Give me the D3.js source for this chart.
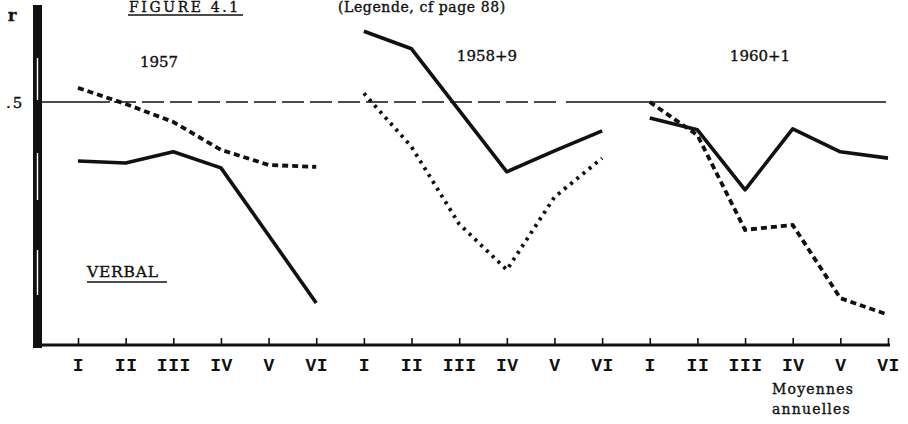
<!DOCTYPE html>
<html>
<head>
<meta charset="utf-8">
<script src="https://cdn.jsdelivr.net/npm/d3@7"></script>
<style>
  html, body { margin: 0; padding: 0; background: #fff; }
  svg { display: block; }
  .serif { font-family: "DejaVu Serif", "Liberation Serif", serif; fill: #111; stroke: #111; stroke-width: 0.35px; }
  .roman { font-family: "Liberation Mono", "DejaVu Sans Mono", monospace; font-weight: bold; }
</style>
</head>
<body>
<svg id="chart" width="908" height="424"></svg>
<script>
// Periods within each survey and the survey groups along the x axis
const periods = ["I", "II", "III", "IV", "V", "VI"];
const groups = ["1957", "1958+9", "1960+1"];

// Correlation r per period, one row per group (solid curve)
const solidValues = [
  [0.379, 0.375, 0.398, 0.365, 0.227, 0.088],
  [0.645, 0.609, 0.483, 0.357, 0.400, 0.441],
  [0.467, 0.443, 0.320, 0.445, 0.398, 0.385]
];
// Correlation r per period, one row per group (dotted curve)
const dottedValues = [
  [0.529, 0.496, 0.459, 0.402, 0.371, 0.367],
  [0.518, 0.408, 0.250, 0.156, 0.305, 0.385],
  [0.500, 0.432, 0.238, 0.248, 0.098, 0.064]
];
// Reference level and its label
const refValue = 0.5;
const refLabel = ".5";
const yTitle = "r";

const svg = d3.select("#chart");

const keys = [];
groups.forEach(g => periods.forEach(p => keys.push(g + "|" + p)));

const x = d3.scalePoint().domain(keys).range([78, 888]).padding(0);
const y = d3.scaleLinear().domain([0, 0.5]).range([346, 102]);

// Reference line at r = .5 : solid, broken dashes, then solid again
const refY = y(refValue);
const ref = svg.append("g").attr("stroke", "#111").attr("stroke-width", 1.4).attr("fill", "none");
ref.append("line").attr("x1", 42).attr("x2", 110).attr("y1", refY).attr("y2", refY);
ref.append("line").attr("x1", 114).attr("x2", 560).attr("y1", refY).attr("y2", refY)
  .attr("stroke-dasharray", "22,6");
ref.append("line").attr("x1", 566).attr("x2", 886).attr("y1", refY).attr("y2", refY);

// Thick vertical axis with light streaks inside
svg.append("rect").attr("x", 33).attr("y", 5).attr("width", 9).attr("height", 343).attr("fill", "#111");
[[58, 100], [153, 200], [250, 295]].forEach(([a, b]) => {
  svg.append("line").attr("x1", 37.5).attr("x2", 37.5).attr("y1", a).attr("y2", b)
    .attr("stroke", "#fff").attr("stroke-width", 1.4);
});

// Horizontal axis baseline
svg.append("line").attr("x1", 35).attr("x2", 890).attr("y1", 345).attr("y2", 345)
  .attr("stroke", "#111").attr("stroke-width", 3);

// Period ticks and Roman numeral labels
const xAxis = d3.axisBottom(x)
  .tickSizeInner(-6).tickSizeOuter(0)
  .tickFormat(d => d.split("|")[1]);
const ax = svg.append("g").attr("transform", "translate(0,344)").call(xAxis);
ax.select(".domain").remove();
ax.selectAll(".tick line").attr("stroke", "#111").attr("stroke-width", 1.6);
ax.selectAll(".tick text")
  .attr("class", "roman")
  .attr("y", 27).attr("dy", 0)
  .attr("fill", "#111")
  .style("font-size", "18px")
  .style("letter-spacing", "0.5px");

// Curves, drawn separately for each group
const line = d3.line()
  .x((d, i) => x(d.g + "|" + periods[i]))
  .y(d => y(d.v));

const dashes = ["6,4", "3,5", "6,4"];
groups.forEach((g, gi) => {
  const dotted = dottedValues[gi].map(v => ({ g, v }));
  const solid = solidValues[gi].map(v => ({ g, v }));
  svg.append("path").datum(dotted)
    .attr("d", line)
    .attr("fill", "none").attr("stroke", "#111").attr("stroke-width", 3.8)
    .attr("stroke-dasharray", dashes[gi]);
  svg.append("path").datum(solid)
    .attr("d", line)
    .attr("fill", "none").attr("stroke", "#111").attr("stroke-width", 3.6)
    .attr("stroke-linejoin", "round");
});

// Group titles
const titleX = [159, 487, 760];
const titleY = [67, 61, 61];
groups.forEach((g, gi) => {
  svg.append("text").attr("class", "serif")
    .attr("x", titleX[gi]).attr("y", titleY[gi])
    .attr("text-anchor", "middle")
    .style("font-size", "15px")
    .text(g);
});

// Axis annotations
svg.append("text").attr("class", "serif").attr("x", 8).attr("y", 21)
  .style("font-size", "16px").style("font-weight", "bold").text(yTitle);
svg.append("text").attr("class", "serif").attr("x", 6).attr("y", 108)
  .style("font-size", "15px").style("letter-spacing", "2px").text(refLabel);

// Heading
svg.append("text").attr("class", "serif").attr("x", 129).attr("y", 12)
  .style("font-size", "14px").style("letter-spacing", "2.6px").text("FIGURE 4.1");
svg.append("line").attr("x1", 128).attr("x2", 243).attr("y1", 15).attr("y2", 15)
  .attr("stroke", "#111").attr("stroke-width", 1.4);
svg.append("text").attr("class", "serif").attr("x", 338).attr("y", 12)
  .style("font-size", "14px").style("letter-spacing", "0.6px").text("(Legende, cf page 88)");

// Subject label
svg.append("text").attr("class", "serif").attr("x", 87).attr("y", 277)
  .style("font-size", "15.5px").style("letter-spacing", "0.8px").text("VERBAL");
svg.append("line").attr("x1", 87).attr("x2", 167).attr("y1", 282).attr("y2", 282)
  .attr("stroke", "#111").attr("stroke-width", 1.4);

// Footnote under the last group
svg.append("text").attr("class", "serif").attr("x", 772).attr("y", 394)
  .style("font-size", "14px").style("letter-spacing", "1.2px").text("Moyennes");
svg.append("text").attr("class", "serif").attr("x", 772).attr("y", 414)
  .style("font-size", "14px").style("letter-spacing", "1.2px").text("annuelles");
</script>
</body>
</html>
